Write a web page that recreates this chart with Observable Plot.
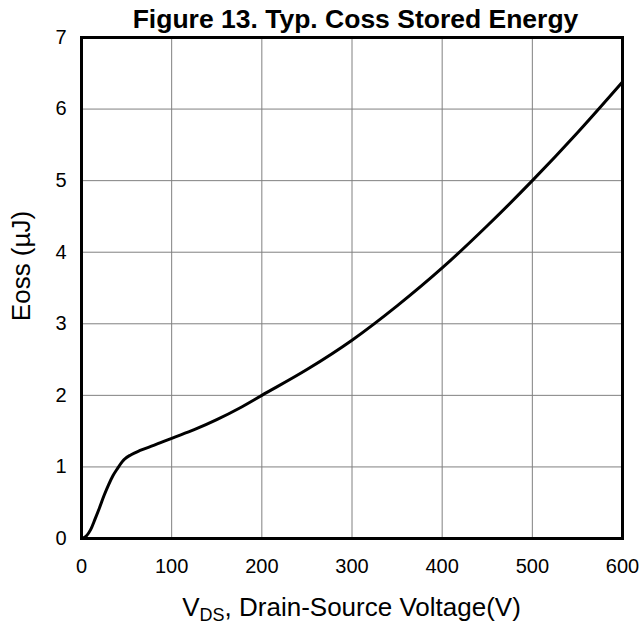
<!DOCTYPE html>
<html>
<head>
<meta charset="utf-8">
<script src="https://cdn.jsdelivr.net/npm/d3@7"></script>
<script src="https://cdn.jsdelivr.net/npm/@observablehq/plot@0.6"></script>
<style>
  html, body { margin: 0; padding: 0; background: #fff; }
  body { position: relative; width: 641px; height: 628px; overflow: hidden; font-family: "Liberation Sans", Arial, sans-serif; }
  #title { position: absolute; left: 0; top: 0; z-index: 2; box-sizing: border-box; width: 641px; height: 34px; padding-top: 4px; padding-left: 70px;
           font: bold 26.5px "Liberation Sans", Arial, sans-serif; line-height: 30px; text-align: center; color: #000; white-space: nowrap; pointer-events: none; }
  #xlabel { box-sizing: border-box; width: 641px; height: 38px; padding-top: 2px; padding-left: 62px;
            font: 26px "Liberation Sans", Arial, sans-serif; line-height: 30px; text-align: center; color: #000; white-space: nowrap; }
  #xlabel sub { font-size: 18px; vertical-align: baseline; position: relative; top: 5px; }
  svg { display: block; }
</style>
</head>
<body>
<div id="title">Figure 13. Typ. Coss Stored Energy</div>
<div id="chart"></div>
<div id="xlabel">V<sub>DS</sub>, Drain-Source Voltage(V)</div>
<script>
// Drain-source voltage (V)
const vds  = [0, 5, 10, 15, 20, 25, 30, 35, 40, 45, 47, 55, 65, 80, 100, 125, 150, 175, 200, 250, 300, 350, 400, 450, 500, 550, 600];
// Eoss (µJ)
const eoss = [0, 0.03, 0.12, 0.27, 0.43, 0.6, 0.75, 0.88, 0.98, 1.07, 1.1, 1.17, 1.23, 1.3, 1.4, 1.52, 1.66, 1.82, 2.0, 2.36, 2.77, 3.25, 3.78, 4.37, 5.0, 5.67, 6.38];
const xTicks = [0, 100, 200, 300, 400, 500, 600];
const yTicks = [0, 1, 2, 3, 4, 5, 6, 7];
const yLabel = "Eoss (µJ)";

const data = vds.map((v, i) => ({v, e: eoss[i]}));

const chart = Plot.plot({
  width: 641,
  height: 590,
  marginTop: 37,
  marginLeft: 81,
  marginRight: 19,
  marginBottom: 52,
  style: {fontSize: "20px", fontFamily: "'Liberation Sans', Arial, sans-serif", color: "#000", background: "#fff"},
  x: {domain: [0, 600], ticks: xTicks, tickFormat: d3.format("d"), tickSize: 0, tickPadding: 20, label: null},
  y: {domain: [0, 7], ticks: yTicks, tickFormat: d3.format("d"), tickSize: 0, tickPadding: 15, label: null},
  marks: [
    Plot.gridX(xTicks, {stroke: "#808080", strokeOpacity: 1, strokeWidth: 1}),
    Plot.gridY(yTicks, {stroke: "#808080", strokeOpacity: 1, strokeWidth: 1}),
    Plot.line(data, {x: "v", y: "e", stroke: "#000", strokeWidth: 3, curve: "monotone-x"}),
    Plot.frame({stroke: "#000", strokeWidth: 3}),
    Plot.text([yLabel], {frameAnchor: "left", textAnchor: "middle", rotate: -90, dx: -60, dy: -22, fontSize: 26, fill: "#000"})
  ]
});
document.getElementById("chart").appendChild(chart);
</script>
</body>
</html>
